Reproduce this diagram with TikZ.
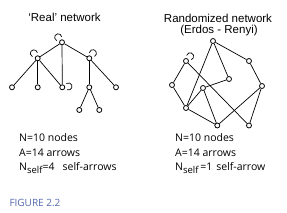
\documentclass[tikz,border=0pt]{standalone}
\usepackage{fontspec}
\setmainfont{Open Sans}
\newfontfamily\titlefont{Liberation Sans}
\definecolor{figblue}{RGB}{85,105,175}
% self-loop: node name, direction (canvas degrees); open arc facing the node
\newcommand{\selfloop}[2]{%
  \pgfmathsetmacro{\lpstart}{#2+180+62}%
  \draw[ed] (#1.center) ++(#2:6.2pt) ++(\lpstart:3.6pt)
    arc[start angle=\lpstart, delta angle=236, radius=3.6pt];}
\begin{document}
\begin{tikzpicture}[x=1pt,y=-1pt,
  nd/.style={circle,draw,line width=0.8pt,inner sep=0pt,minimum size=5pt},
  ed/.style={line width=0.7pt},
  ttl/.style={font=\titlefont\fontsize{11.5}{13}\selectfont,inner sep=0pt,anchor=base},
  stat/.style={font=\fontsize{10.5}{12}\selectfont,inner sep=0pt,anchor=base west}]
\useasboundingbox (0,0) rectangle (287,213);
% titles
\node[ttl] (t1) at (64.5,21.5) {‘Real’ network};
\node[ttl] (t2) at (218,23) {Randomized network};
\node[ttl] (t3) at (219,34) {(Erdos - Renyi)};
% left network
\node[nd] (r)  at (62,42.3) {};
\node[nd] (l)  at (37.7,58.3) {};
\node[nd] (rt) at (89.3,58.3) {};
\node[nd] (a)  at (12,87.3) {};
\node[nd] (b)  at (37.7,87.3) {};
\node[nd] (c)  at (62.3,87.3) {};
\node[nd] (d)  at (89.3,87.3) {};
\node[nd] (e)  at (116,87.3) {};
\node[nd] (f)  at (79.3,110) {};
\node[nd] (g)  at (99.3,110) {};
\draw[ed] (r) -- (l);
\draw[ed] (r) -- (rt);
\draw[ed] (r) -- (c);
\draw[ed] (l) -- (a);
\draw[ed] (l) -- (b);
\draw[ed] (l) -- (c);
\draw[ed] (rt) -- (d);
\draw[ed] (rt) -- (e);
\draw[ed] (d) -- (f);
\draw[ed] (d) -- (g);
\selfloop{r}{128}
\selfloop{l}{128}
\selfloop{rt}{55}
\selfloop{c}{8}
% right network
\node[nd] (A) at (213,41) {};
\node[nd] (B) at (249,61) {};
\node[nd] (C) at (186,61) {};
\node[nd] (D) at (172,85) {};
\node[nd] (E) at (229,79) {};
\node[nd] (F) at (203,88) {};
\node[nd] (G) at (262,86) {};
\node[nd] (H) at (186,108) {};
\node[nd] (I) at (217.3,125.5) {};
\node[nd] (J) at (249,125.5) {};
\draw[ed] (A) -- (B);
\draw[ed] (A) -- (E);
\draw[ed] (A) -- (H);
\draw[ed] (B) -- (G);
\draw[ed] (G) -- (I);
\draw[ed] (G) -- (J);
\draw[ed] (C) -- (D);
\draw[ed] (C) -- (J);
\draw[ed] (D) -- (H);
\draw[ed] (H) -- (I);
\draw[ed] (E) -- (F);
\draw[ed] (F) -- (H);
\draw[ed] (F) -- (I);
\selfloop{C}{49}
% statistics
\node[stat] (s1) at (19,141.7) {N=10 nodes};
\node[stat] (s2) at (19,156.7) {A=14 arrows};
\node[stat] (s3) at (19,171) {N\raisebox{-2.7pt}{\fontsize{9.5}{10}\selectfont self}=4\hspace{8pt}self-arrows};
\node[stat] (s4) at (175,141.7) {N=10 nodes};
\node[stat] (s5) at (175,156.7) {A=14 arrows};
\node[stat] (s6) at (175,171) {N\raisebox{-2.7pt}{\fontsize{9.5}{10}\selectfont self}\,=1\hspace{4pt}self-arrow};
\node[font=\fontsize{10}{12}\selectfont,text=figblue,inner sep=0pt,anchor=base west] (fig) at (9.3,206.7) {FIGURE 2.2};
\end{tikzpicture}
\end{document}
